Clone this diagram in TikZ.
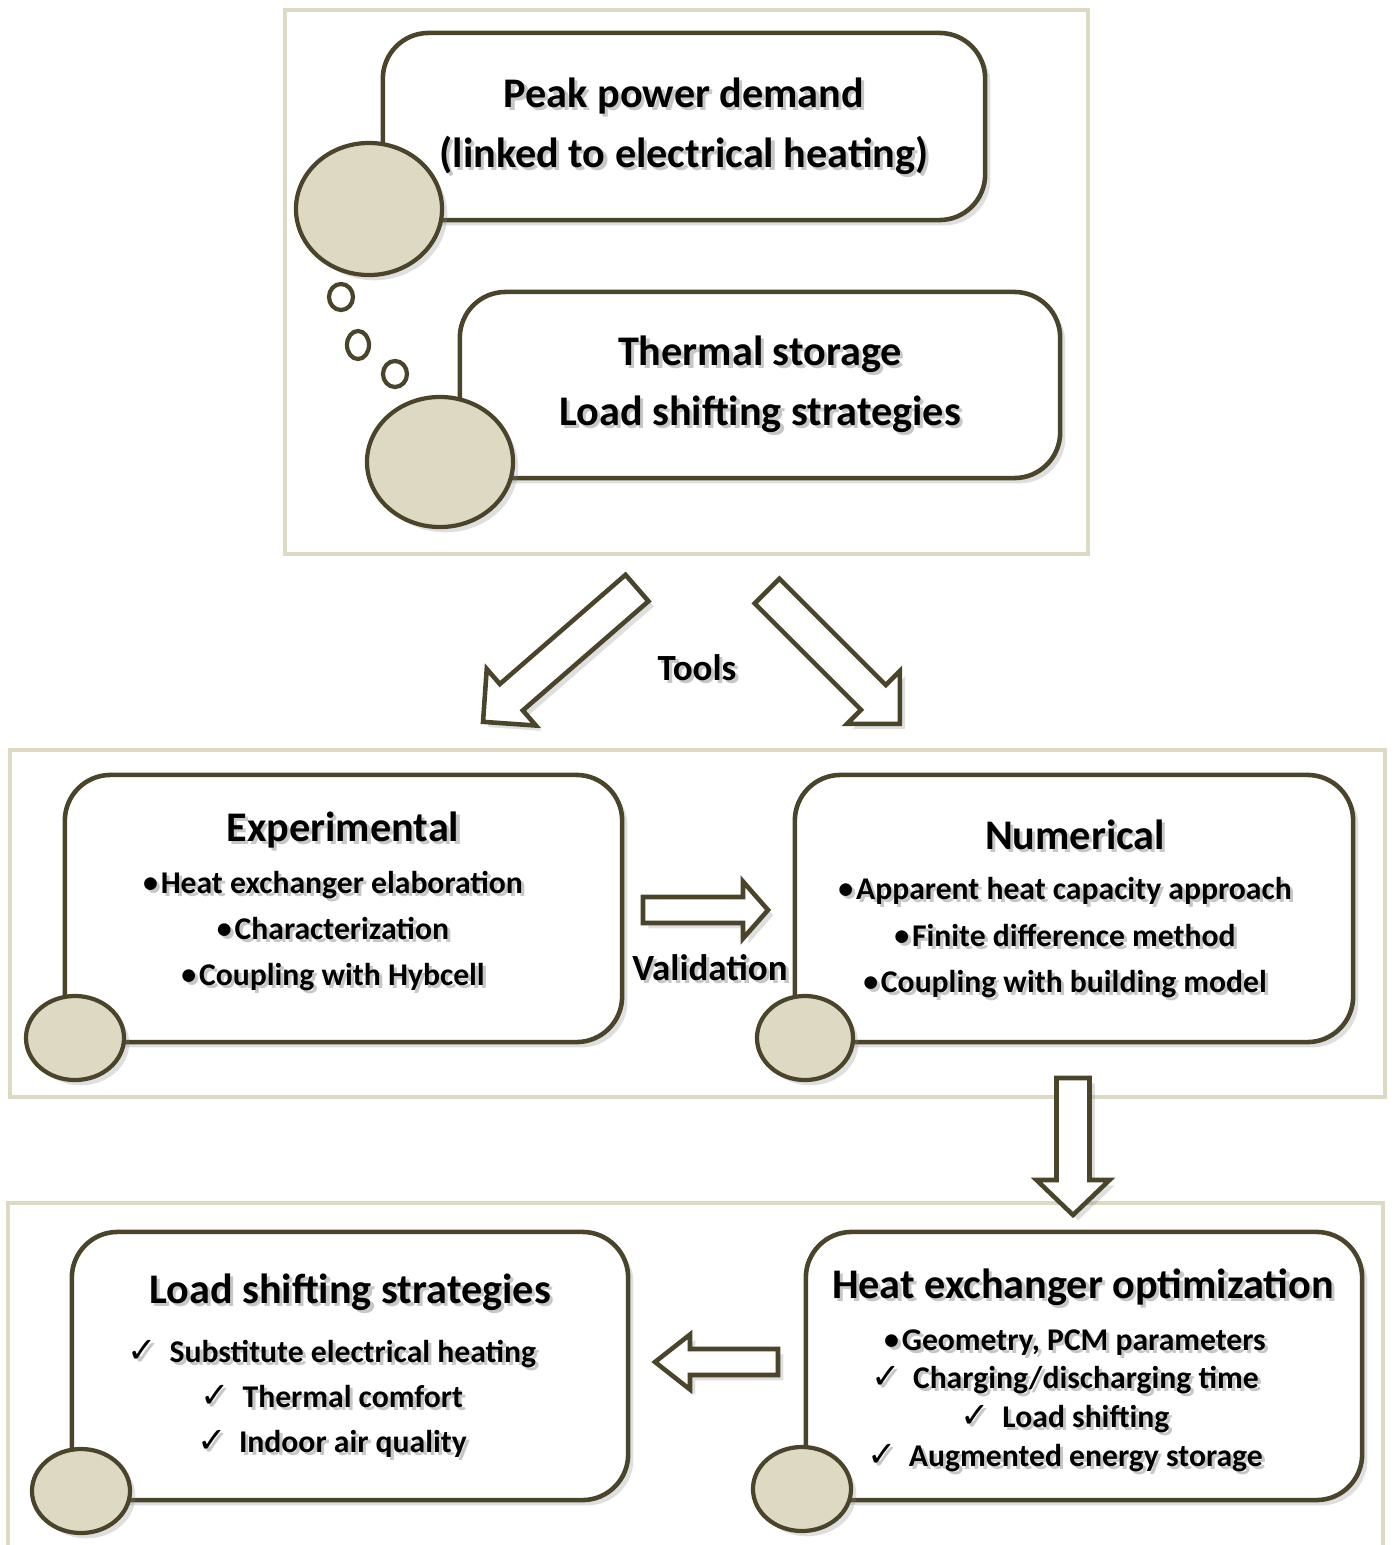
\documentclass[tikz,border=0pt]{standalone}
\usepackage{fontspec}
\setmainfont{Carlito}
\newfontfamily\symfont{DejaVu Sans}
\usetikzlibrary{shapes.geometric,shadows}

\definecolor{bubbleline}{RGB}{74,69,42}
\definecolor{tanfill}{RGB}{221,217,195}

\tikzset{
  outerframe/.style={draw=tanfill, line width=1pt},
  bubble/.style={rectangle, draw=bubbleline, line width=1.3pt, fill=white, rounded corners=13pt,
    drop shadow={shadow xshift=1.5pt, shadow yshift=-1.5pt, opacity=.25}},
  blob/.style={ellipse, draw=bubbleline, line width=1.2pt, fill=tanfill, inner sep=0pt,
    drop shadow={shadow xshift=1.5pt, shadow yshift=-1.5pt, opacity=.25}},
  hollow/.style={draw=bubbleline, line width=1.3pt, fill=white, line join=miter,
    drop shadow={shadow xshift=1.5pt, shadow yshift=-1.5pt, opacity=.25}},
  title/.style={font=\fontsize{12}{14}\selectfont\bfseries, anchor=base},
  item/.style={font=\fontsize{9}{11}\selectfont\bfseries, anchor=base},
}

% tail x, tail y, angle, length, half shaft, half head, head length
\newcommand{\hollowarrow}[7]{%
  \begin{scope}[shift={(#1,#2)}, rotate=#3]
    \draw[hollow] (0,-#5) -- (#4-#7,-#5) -- (#4-#7,-#6) -- (#4,0)
      -- (#4-#7,#6) -- (#4-#7,#5) -- (0,#5) -- cycle;
  \end{scope}}

% soft text shadow
\newcommand{\glow}[1]{\makebox[0pt][l]{\hspace{0.9pt}\raisebox{-0.9pt}{\textcolor{black!22}{#1}}}#1}
\newcommand{\tick}{{\symfont\fontsize{10}{10}\selectfont ✓}\hspace{3.5pt}}
\newcommand{\bulletmark}{{\fontsize{8.5}{9}\selectfont\raisebox{0.2pt}{\textbullet}}\hspace{0.8pt}}

\begin{document}
\begin{tikzpicture}[x=0.01cm, y=-0.01cm]

\useasboundingbox (0,0) rectangle (1394,1545);

% outer frames
\draw[outerframe] (285,10) rectangle (1088,554);
\draw[outerframe] (10,750) rectangle (1385,1097);
\draw[outerframe] (8,1203) rectangle (1383,1560);

\begin{scope}

% thought bubbles
\node[bubble, minimum width=6.02cm, minimum height=1.87cm] (peak) at (684,126.5) {};
\node[bubble, minimum width=6.00cm, minimum height=1.86cm] (storage) at (760,385) {};

\node[blob, minimum width=1.46cm, minimum height=1.32cm] (peakblob) at (369,209) {};
\node[blob, minimum width=1.46cm, minimum height=1.30cm] (storageblob) at (440,462) {};

% small circles
\foreach \x/\y/\w/\h [count=\i] in {341/297/.24/.26, 358/345/.22/.28, 395/374/.24/.26}
  \node[ellipse, draw=bubbleline, line width=1.2pt, fill=white, inner sep=0pt,
    minimum width=\w cm, minimum height=\h cm] (dot\i) at (\x,\y) {};

% label bubbles
\node[title] (peaktxt) at (684,107) {\glow{Peak power demand}};
\node[title] (linktxt) at (684,167) {\glow{(linked to electrical heating)}};
\node[title] (storetxt) at (760,365) {\glow{Thermal storage}};
\node[title] (loadtxt) at (760,425) {\glow{Load shifting strategies}};

\end{scope}

% tools arrows
\hollowarrow{637}{588}{221}{204}{17.5}{37.5}{37.5}
\hollowarrow{767}{591}{-45}{188}{17.5}{37.5}{37.5}
\node[font=\fontsize{10.5}{12}\selectfont\bfseries, anchor=base] (tools) at (697,680) {\glow{Tools}};

\begin{scope}

% experimental and numerical
\node[bubble, minimum width=5.57cm, minimum height=2.67cm] (exper) at (343.5,908.5) {};
\node[bubble, minimum width=5.58cm, minimum height=2.67cm] (numer) at (1074,908.5) {};

\node[blob, minimum width=.98cm, minimum height=.84cm] (experblob) at (75,1038) {};
\node[blob, minimum width=.96cm, minimum height=.84cm] (numerblob) at (805,1038) {};

\node[title] (expertitle) at (343,841) {\glow{Experimental}};
\foreach \txt [count=\i] in {Heat exchanger elaboration, Characterization, Coupling with Hybcell}
  \node[item] (experitem\i) at (333,847+46*\i) {\glow{\bulletmark\txt}};

\node[title] (numertitle) at (1075,849) {\glow{Numerical}};
\foreach \txt [count=\i] in {Apparent heat capacity approach, Finite difference method, Coupling with building model}
  \node[item] (numeritem\i) at (1065,853+46.5*\i) {\glow{\bulletmark\txt}};

% validation arrow
\hollowarrow{643}{910}{0}{125}{13}{28.5}{25}
\node[font=\fontsize{10.5}{12}\selectfont\bfseries, anchor=base] (valid) at (710,980) {\glow{Validation}};

\end{scope}

% down arrow
\hollowarrow{1073}{1078}{-90}{137}{16.5}{36.5}{35}

\begin{scope}

% load shifting and optimization
\node[bubble, minimum width=5.56cm, minimum height=2.68cm] (shift) at (350,1366) {};
\node[bubble, minimum width=5.56cm, minimum height=2.68cm] (optim) at (1084,1366) {};

\node[blob, minimum width=.98cm, minimum height=.84cm] (shiftblob) at (81,1491) {};
\node[blob, minimum width=.98cm, minimum height=.84cm] (optimblob) at (802,1489) {};

\node[title] (shifttitle) at (350,1303) {\glow{Load shifting strategies}};
\foreach \txt [count=\i] in {Substitute electrical heating, Thermal comfort, Indoor air quality}
  \node[item] (shiftitem\i) at (332,1317+45*\i) {\glow{\tick\txt}};

\node[title] (optimtitle) at (1083,1298) {\glow{Heat exchanger optimization}};
\node[item] (optimitem0) at (1075,1350) {\glow{\bulletmark Geometry, PCM parameters}};
\foreach \txt [count=\i] in {Charging/discharging time, Load shifting, Augmented energy storage}
  \node[item] (optimitem\i) at (1065,1349+39*\i) {\glow{\tick\txt}};

% back arrow
\hollowarrow{778}{1362}{180}{123}{13}{27.5}{35}

\end{scope}

\end{tikzpicture}
\end{document}
